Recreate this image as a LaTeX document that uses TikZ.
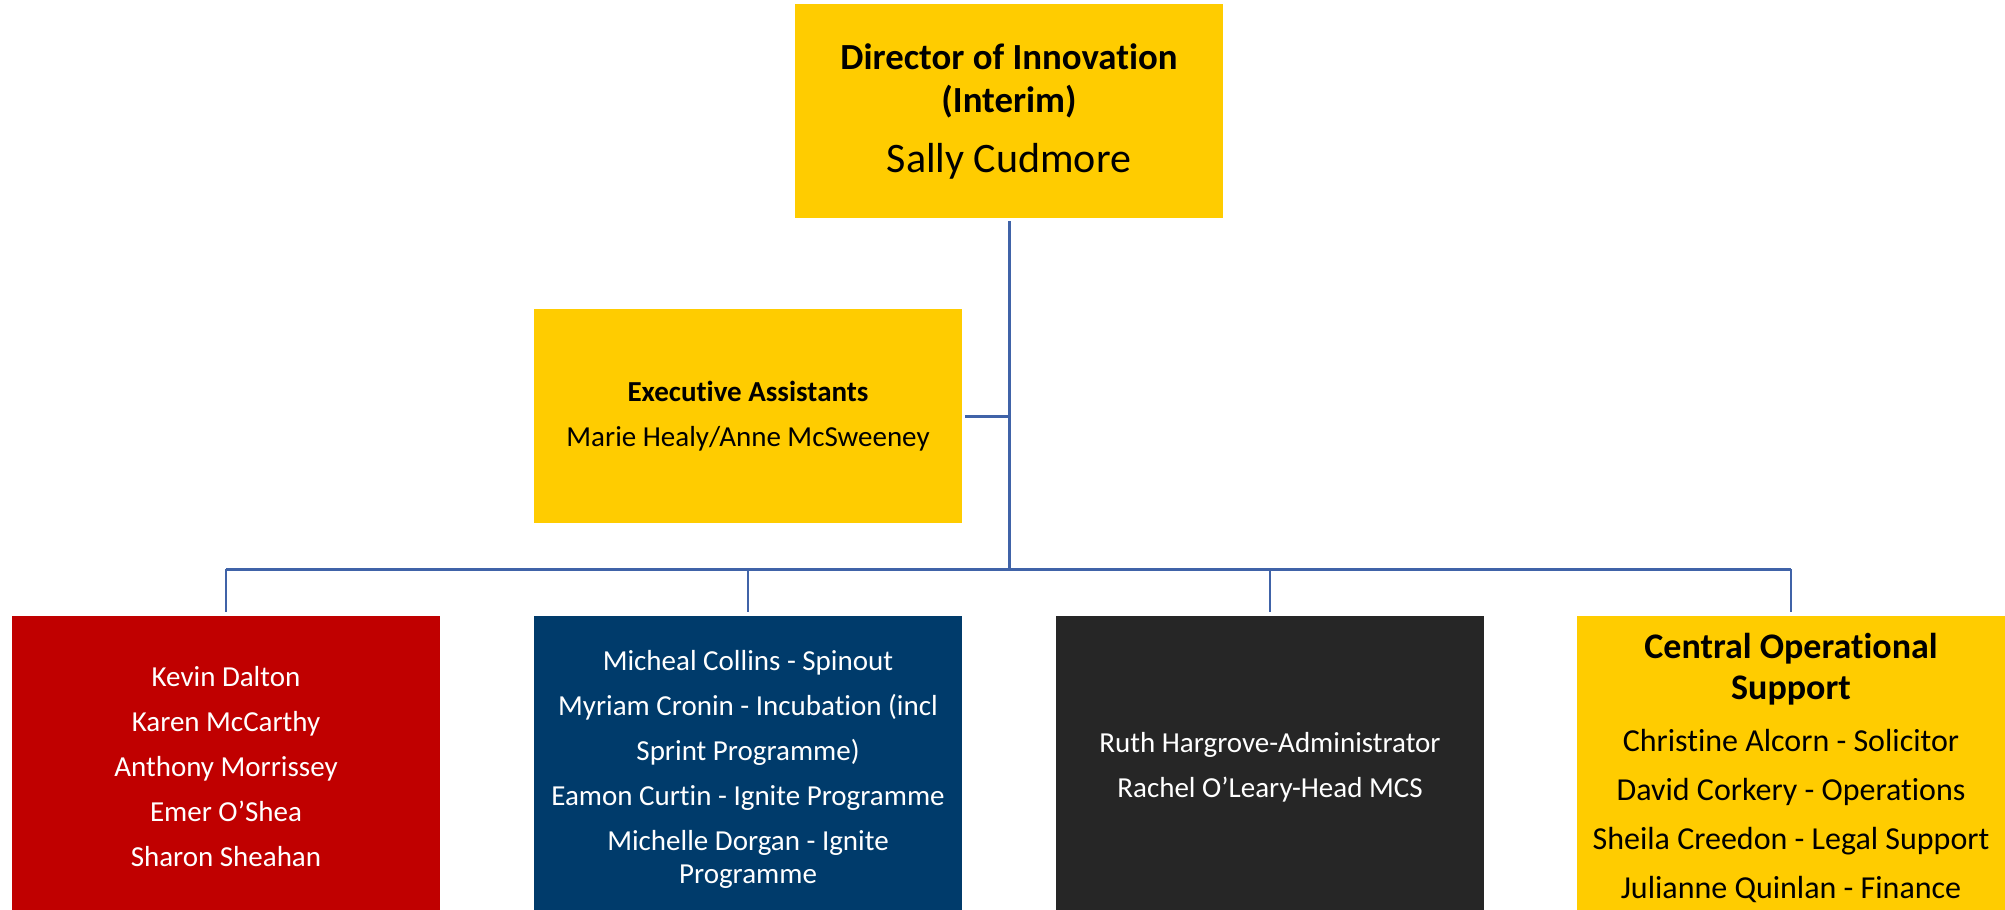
\documentclass[tikz,border=0pt]{standalone}
\usepackage{fontspec}
\setmainfont{Carlito}[Ligatures={NoCommon}]
\definecolor{oyellow}{HTML}{FFCC00}
\definecolor{ored}{HTML}{C00000}
\definecolor{oblue}{HTML}{003B6B}
\definecolor{oblack}{HTML}{262626}
\definecolor{lineblue}{HTML}{4063A8}
\begin{document}
\begin{tikzpicture}[x=1pt,y=-1pt,
  box/.style={rectangle, inner sep=0pt, outer sep=0pt, minimum width=428pt, text width=424pt, align=flush center},
  ybox/.style={box, fill=oyellow, text=black},
  lowbox/.style={box, minimum height=302pt},
  conn/.style={draw=lineblue, line width=3pt},
  drop/.style={draw=lineblue, line width=2.4pt}]
\useasboundingbox (0,0) rectangle (2005,910);

\node[ybox, minimum height=214pt, font=\fontsize{36.8}{43}\selectfont\bfseries] (dir) at (1009,111)
  {Director of Innovation\\(Interim)\\[17pt]\fontsize{42}{43}\selectfont\mdseries Sally Cudmore};

\node[ybox, minimum height=214pt, font=\fontsize{29}{45}\selectfont] (exec) at (748,416)
  {{\bfseries Executive Assistants}\\Marie Healy/Anne McSweeney};

\node[lowbox, fill=ored, text=white, font=\fontsize{29}{45}\selectfont] (red) at (226,767)
  {Kevin Dalton\\Karen McCarthy\\Anthony Morrissey\\Emer O’Shea\\Sharon Sheahan};

\node[lowbox, minimum height=306pt, fill=oblue, text=white, font=\fontsize{29}{45}\selectfont] (blue) at (748,769)
  {Micheal Collins - Spinout\\Myriam Cronin - Incubation (incl\\Sprint Programme)\\Eamon Curtin - Ignite Programme\\Michelle Dorgan - Ignite\\[-12pt]Programme};

\node[lowbox, fill=oblack, text=white, font=\fontsize{29}{45}\selectfont] (black) at (1270,767)
  {Ruth Hargrove-Administrator\\Rachel O’Leary-Head MCS};

\node[lowbox, minimum height=304pt, fill=oyellow, text=black, font=\fontsize{36}{41}\selectfont\bfseries] (ylw) at (1791,768)
  {Central Operational\\Support\\[11pt]\fontsize{32}{41}\selectfont\mdseries Christine Alcorn - Solicitor\\[8pt]David Corkery - Operations\\[8pt]Sheila Creedon - Legal Support\\[8pt]Julianne Quinlan - Finance};

\coordinate (bus) at (1009,569);
\draw[conn, shorten <=3pt] (dir.south) -- (bus);
\draw[conn, shorten <=3pt] (exec.east) -- (exec.east -| dir.south);
\draw[conn] (red.north |- bus) -- (ylw.north |- bus);
\foreach \b in {red,blue,black,ylw}
  \draw[drop] (\b.north |- bus) -- ([yshift=4pt]\b.north);
\end{tikzpicture}
\end{document}
